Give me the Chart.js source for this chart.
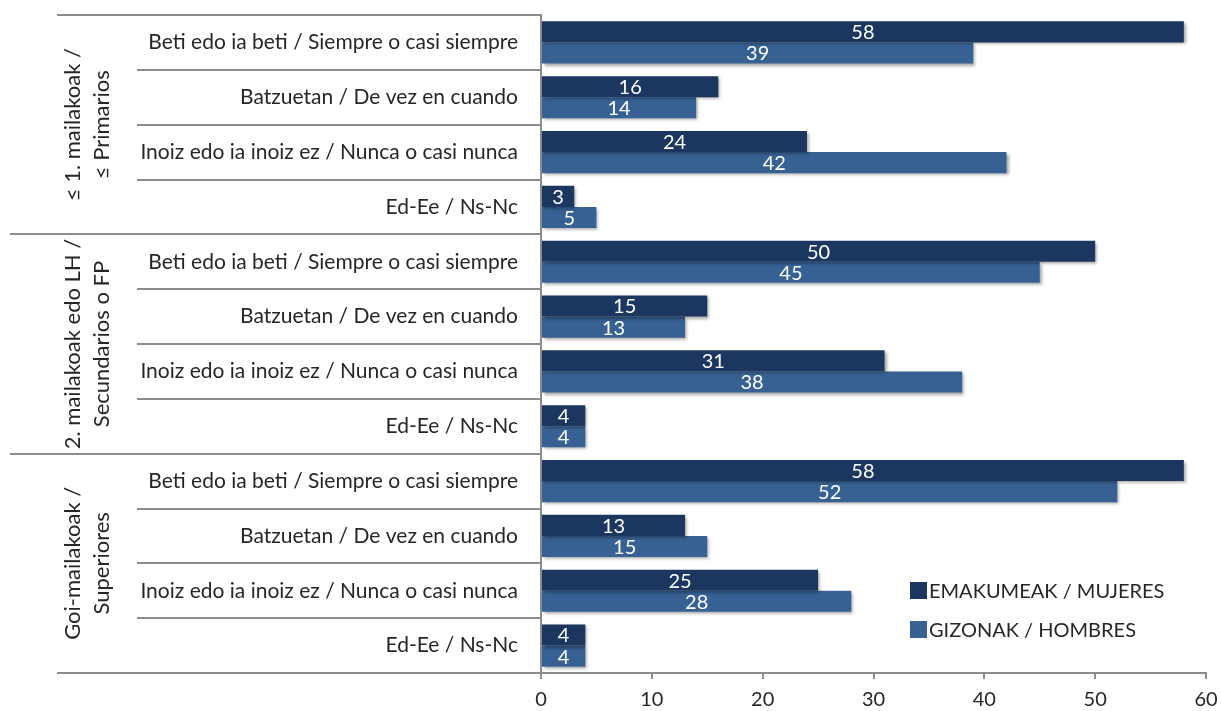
<!DOCTYPE html>
<html>
<head>
<meta charset="utf-8">
<script src="https://cdn.jsdelivr.net/npm/chart.js@4.4.1/dist/chart.umd.min.js"></script>
<style>
  html, body { margin: 0; padding: 0; background: #fff; }
  #wrap { width: 1221px; height: 711px; }
</style>
</head>
<body>
<div id="wrap"><canvas id="chart1" width="1221" height="711"></canvas></div>
<script>
var answers = [
  'Beti edo ia beti / Siempre o casi siempre',
  'Batzuetan / De vez en cuando',
  'Inoiz edo ia inoiz ez / Nunca o casi nunca',
  'Ed-Ee / Ns-Nc'
];
var groups = [
  ['≤ 1. mailakoak /', '≤ Primarios'],
  ['2. mailakoak edo LH /', 'Secundarios o FP'],
  ['Goi-mailakoak /', 'Superiores']
];
var labels = answers.concat(answers, answers);
var mujeres = [58, 16, 24, 3, 50, 15, 31, 4, 58, 13, 25, 4];
var hombres = [39, 14, 42, 5, 45, 13, 38, 4, 52, 15, 28, 4];
var xTicks = [0, 10, 20, 30, 40, 50, 60];

var FONT = 'Lato, "Liberation Sans", sans-serif';
var LINE = '#8c8c8c';
var DARK = '#1c375f';
var LIGHT = '#376193';
var TEXT = '#262626';

// separators between rows, group labels, bar values and legend
var decor = {
  id: 'decor',
  beforeDatasetsDraw: function (chart) {
    var ctx = chart.ctx;
    ctx.save();
    ctx.shadowColor = 'rgba(0,0,0,0.35)';
    ctx.shadowOffsetX = 2;
    ctx.shadowOffsetY = 2;
    ctx.shadowBlur = 3;
  },
  afterDatasetsDraw: function (chart) {
    var ctx = chart.ctx;
    ctx.restore();
    var y = chart.scales.y;
    var right = chart.chartArea.left;
    var n = labels.length;

    ctx.save();
    ctx.strokeStyle = LINE;
    ctx.lineWidth = 2;
    for (var k = 0; k <= n; k++) {
      var py = Math.round(y.getPixelForValue(k - 0.5));
      var x0 = 137;
      if (k === 0 || k === n) x0 = 57;
      else if (k % answers.length === 0) x0 = 10;
      ctx.beginPath();
      ctx.moveTo(x0, py);
      ctx.lineTo(right, py);
      ctx.stroke();
    }

    // group titles, rotated
    ctx.fillStyle = TEXT;
    ctx.font = '22px ' + FONT;
    ctx.textAlign = 'center';
    ctx.textBaseline = 'alphabetic';
    groups.forEach(function (g, i) {
      var a = y.getPixelForValue(i * 4 - 0.5);
      var b = y.getPixelForValue(i * 4 + 3.5);
      var cy = (a + b) / 2;
      g.forEach(function (line, j) {
        ctx.save();
        ctx.translate(80 + j * 29, cy);
        ctx.rotate(-Math.PI / 2);
        ctx.fillText(line, 0, 0);
        ctx.restore();
      });
    });

    // values inside bars
    ctx.fillStyle = '#fff';
    ctx.font = '20px ' + FONT;
    ctx.textBaseline = 'middle';
    chart.data.datasets.forEach(function (ds, di) {
      chart.getDatasetMeta(di).data.forEach(function (bar, i) {
        ctx.fillText(String(ds.data[i]), (bar.x + bar.base) / 2, bar.y + 1);
      });
    });

    // legend
    ctx.textAlign = 'left';
    chart.data.datasets.forEach(function (ds, di) {
      var ly = 591 + di * 39;
      ctx.fillStyle = ds.backgroundColor;
      ctx.fillRect(910, ly - 9, 17, 17);
      ctx.fillStyle = TEXT;
      ctx.fillText(ds.label, 929, ly + 1);
    });
    ctx.restore();
  }
};

var barChart = new Chart(document.getElementById('chart1'), {
  type: 'bar',
  data: {
    labels: labels,
    datasets: [
      { label: 'EMAKUMEAK / MUJERES', data: mujeres, backgroundColor: DARK },
      { label: 'GIZONAK / HOMBRES', data: hombres, backgroundColor: LIGHT }
    ]
  },
  options: {
    indexAxis: 'y',
    responsive: false,
    animation: false,
    devicePixelRatio: 1,
    layout: { padding: { top: 15, right: 15, left: 0, bottom: 0 } },
    datasets: { bar: { categoryPercentage: 0.77, barPercentage: 1 } },
    plugins: {
      legend: { display: false },
      tooltip: { enabled: false }
    },
    scales: {
      x: {
        min: 0,
        max: 60,
        afterBuildTicks: function (s) { s.ticks = xTicks.map(function (v) { return { value: v }; }); },
        afterFit: function (s) { s.height = 38; s.paddingLeft = 0; s.paddingRight = 0; },
        grid: { drawOnChartArea: false, drawTicks: true, tickLength: 6, color: LINE, lineWidth: 2 },
        border: { display: true, color: LINE, width: 2 },
        ticks: { color: TEXT, padding: 9, font: { size: 20, family: FONT } }
      },
      y: {
        afterFit: function (s) { s.width = 541; s.paddingTop = 0; s.paddingBottom = 0; },
        grid: { display: false, drawTicks: false },
        border: { display: true, color: LINE, width: 2 },
        ticks: { color: TEXT, padding: 23, autoSkip: false, font: { size: 21, family: FONT } }
      }
    }
  },
  plugins: [decor]
});
</script>
</body>
</html>
